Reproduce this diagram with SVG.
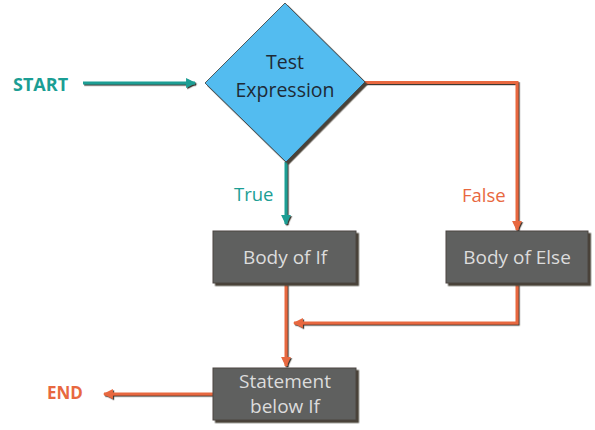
<svg xmlns="http://www.w3.org/2000/svg" width="595" height="430" viewBox="0 0 595 430">
<defs>
<style>
.box{fill:#5f605f;stroke:#4a4540;stroke-width:1}
.btxt{font-family:"Open Sans","Liberation Sans",sans-serif;font-size:19px;fill:#dcdcdc;text-anchor:middle}
.teal{stroke:#1b9e94;stroke-width:3;fill:none}
.orng{stroke:#e8683f;stroke-width:3;fill:none}
.lbl{font-family:"Open Sans","Liberation Sans",sans-serif;font-size:18.5px}
</style>
<filter id="sh" filterUnits="userSpaceOnUse" x="0" y="0" width="595" height="430">
<feDropShadow dx="1.2" dy="1.2" stdDeviation="0.3" flood-color="#3e3832" flood-opacity="1"/>
</filter>
<filter id="bsh" x="-10%" y="-10%" width="130%" height="130%">
<feDropShadow dx="2.5" dy="2.5" stdDeviation="0.4" flood-color="#4a4238" flood-opacity="1"/>
</filter>
<marker id="at" viewBox="0 0 10 10" refX="9" refY="5" markerWidth="3.3" markerHeight="3.3" orient="auto" markerUnits="strokeWidth">
<path d="M0,0 L10,5 L0,10 z" fill="#1b9e94"/>
</marker>
<marker id="ao" viewBox="0 0 10 10" refX="9" refY="5" markerWidth="3.3" markerHeight="3.3" orient="auto" markerUnits="strokeWidth">
<path d="M0,0 L10,5 L0,10 z" fill="#e8683f"/>
</marker>
</defs>
<rect width="595" height="430" fill="#ffffff"/>

<g id="connectors">
<path class="teal" d="M83,83 H195" marker-end="url(#at)" filter="url(#sh)"/>
<path class="teal" d="M286,162 V224" marker-end="url(#at)" filter="url(#sh)"/>
<path class="orng" d="M365,82.5 H517 V230" marker-end="url(#ao)" filter="url(#sh)"/>
<path class="orng" d="M517,284 V323 H294" marker-end="url(#ao)" filter="url(#sh)"/>
<path class="orng" d="M286,284 V366" marker-end="url(#ao)" filter="url(#sh)"/>
<path class="orng" d="M213,394 H104" marker-end="url(#ao)" filter="url(#sh)"/>
<text class="lbl" x="234" y="201" fill="#1b9e94">True</text>
<text class="lbl" x="462" y="202" fill="#e8683f">False</text>
</g>

<g id="start">
<text x="13" y="91" font-family="'Open Sans','Liberation Sans',sans-serif" font-size="18" font-weight="bold" fill="#1b9e94">START</text>
</g>

<g id="test">
<polygon points="285,3 365,82 286,162 205,83" fill="#52bcf0" stroke="#3a3a3a" stroke-width="0.8" filter="url(#bsh)"/>
<text x="285" y="69" text-anchor="middle" font-family="'Open Sans','Liberation Sans',sans-serif" font-size="19.5" fill="#1e2a36">Test</text>
<text x="285" y="97" text-anchor="middle" font-family="'Open Sans','Liberation Sans',sans-serif" font-size="19.5" fill="#1e2a36">Expression</text>
</g>

<g id="bodyif">
<rect class="box" x="213" y="231" width="143" height="52" filter="url(#bsh)"/>
<text class="btxt" x="285" y="264">Body of If</text>
</g>

<g id="bodyelse">
<rect class="box" x="446" y="231" width="142" height="52" filter="url(#bsh)"/>
<text class="btxt" x="517" y="264">Body of Else</text>
</g>

<g id="stmt">
<rect class="box" x="213" y="368" width="143" height="52" filter="url(#bsh)"/>
<text class="btxt" x="285" y="388" font-size="15">Statement</text>
<text class="btxt" x="285" y="413" font-size="15">below If</text>
</g>

<g id="end">
<text x="47" y="399" font-family="'Open Sans','Liberation Sans',sans-serif" font-size="17" font-weight="bold" fill="#e8683f">END</text>
</g>
</svg>
